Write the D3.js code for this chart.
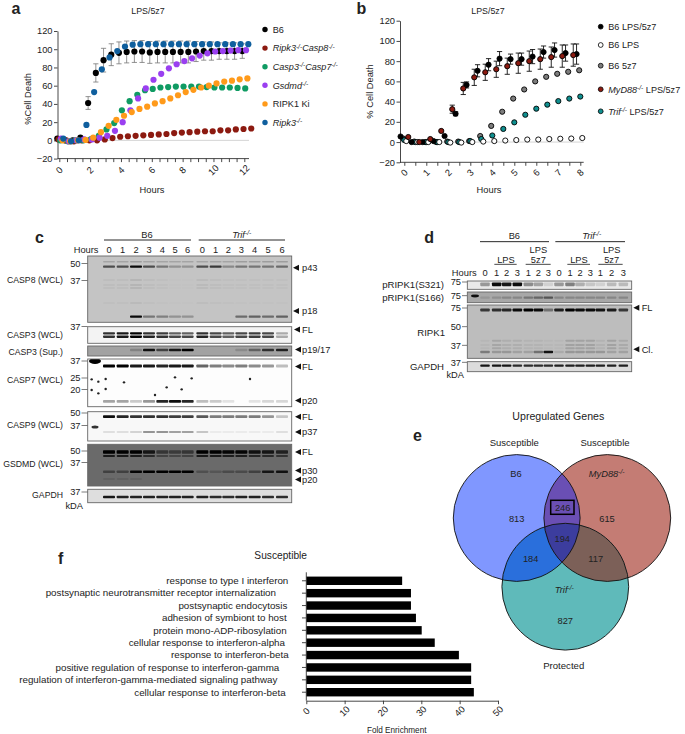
<!DOCTYPE html>
<html><head><meta charset="utf-8">
<script src="https://cdn.jsdelivr.net/npm/d3@7/dist/d3.min.js"></script>
<style>
html,body{margin:0;padding:0;background:#fff}
svg{display:block}
text{font-family:"Liberation Sans",Arial,sans-serif;fill:#222}
.domain,.tick line{stroke:#333}
</style></head><body><svg id="c" width="685" height="734"></svg>
<script>
// ---------- panel a data
const aB6=[2,0,0,3,41,74,88,94,96,97,97.5,97.5,96.5,97,97,97,97,97,97.5,98,98,98,98,98,98];
const aB6Err=[0,0,0,0,7,10,13,12,12,12,12,12,12,12,12,12,12,12,11,10,10,9,9,9,8];
const aRipk3Casp8=[1,0,-1,0,0,0,1,2.5,4,4.5,5,5.5,6,6.5,7,8,8.5,9,9.5,10,10,11,11,12,12.5,13];
const aCasp3Casp7=[0,-1,0,0,1.5,5,12,19,33,43,50,55,56.5,58,58.5,59,59,59,59,58.5,58,58,58,57.5,57];
const aGsdmd=[2,-1,0,1,1,3,5,10.5,20,33,46,57,66.5,73,79,83.5,87,90,93,95.5,97.5,98,98.5,99,99];
const aRipk1Ki=[0,-1,0,0.5,3,9,16,22.5,27,31,34.5,37,40.5,43,46,49.5,53,55.5,58,60,62.5,64.5,65.5,67,68];
const aRipk3=[2,-1,0,17,53,78,91,98,103,105,105.5,105.5,105.5,105.5,105.5,105.5,105.5,105.5,105.5,105.5,105.5,105.5,105.5,105.5,105.5];
const aStart=[-0.13,-0.05,0.06,0.11,0.2,0.26]; // first reading of each series, hours
const aNames=["B6","Ripk3|-/-|Casp8|-/-","Casp3|-/-|Casp7|-/-","Gsdmd|-/-","RIPK1 Ki","Ripk3|-/-"];
const aColors=["#000000","#8c1a10","#0f9b63","#9a3ff0","#ff9a1a","#0f5f9e"];
// ---------- panel b data
const bB6=[5.5,0,0,1,6,28,56.5,70.5,76.5,82.5,82,82,84.5,89,91,88,87];
const bB6Err=[0,0,0,0,0,2,3,6,6,7,5,6,7,6,7,8,10];
const bLPS=[1,0,0,0,-0.5,-0.5,0,0.5,1,1.5,2,2.5,2.5,3,3.3,3.5,4];
const b5z7=[3.5,0.5,0,0,0.5,0.5,1,6,16,30,43,52,60,64.5,67.5,69.5,71];
const bMyD88=[5,0,3,11,32.5,53,64,69,72,75,78,80,82,84,85,86];
const bMyD88Err=[0,0,0,0,4,6,8,8,8,8,10,10,10,10,11,11];
const bTrif=[2,0,0,0,0,0,1,3,6.5,13,19.5,27,33,37,40.5,43,45];
const bStart=[-0.17,0.09,-0.05,0.18,0];
const bNames=["B6 LPS/5z7","B6 LPS","B6 5z7","MyD88|-/-| LPS/5z7","Trif|-/-| LPS/5z7"];
const bColors=["#000000","#ffffff","#7d7d7d","#8c1a10","#0f8f8f"];
// ---------- panel c band intensities per lane
const cHours=[0,1,2,3,4,5,6,0,1,2,3,4,5,6];
const c8top=[.16,.16,.2,.16,.16,.16,.16,.16,.16,.16,.2,.2,.2,.2];
const c8p43=[.6,.6,.95,.6,.4,.25,.25,.6,.7,.3,.4,.4,.4,.45];
const c8mid=[.05,.05,.1,.05,.03,.02,.02,.07,.05,.04,.03,.03,.03,.03];
const c8p18=[0,0,.95,.4,.35,.25,.25,0,0,0,.45,.5,.45,.5];
const c3fl1=[.8,.9,1,.8,.75,.6,.6,.8,.7,.6,.7,.75,.7,.3];
const c3fl2=[.8,.9,1,.85,.8,.7,.7,.85,.7,.6,.7,.75,.7,.3];
const c3sup=[0,0,.2,.9,.6,.85,1,0,0,0,.15,.4,.7,.8];
const c7fl=[1,1,.9,.9,.85,.9,.9,.6,.5,.45,.5,.45,.4,.25];
const c7p20=[.35,.35,.2,.4,.85,.95,.85,.25,.2,.1,0,.1,.15,.15];
const c9fl=[.95,.85,.8,.8,.8,.75,.75,.65,.5,.5,.5,.5,.4,.2];
const c9p37=[.1,.1,.15,.4,.4,.35,.35,.2,.05,.05,.05,.05,.05,.1];
const gdFl=[1,1,1,.8,.5,.45,.5,1,1,.95,.95,.85,.8,.7];
const gdP30=[.4,.4,.95,1,1,1,1,.25,.2,.3,.3,.4,.8,.85];
const gdP20=[.12,.12,.12,0,0,0,0,0,0,0,0,0,0,0];
const cGapdh=[.9,.85,.85,.85,.85,.85,.85,.85,.8,.8,.85,.85,.8,.8];
const c7Specks=[[275,58],[295,65],[317,57],[275,90],[295,100],[317,87],[372,67],[465,105],[545,88],[500,82],[525,52],[575,55],[750,57]];
// ---------- panel d band intensities per lane
const dHours=[0,1,2,3,1,2,3,0,1,2,3,1,2,3];
const dS321=[.35,.95,.9,.95,.4,.3,.1,.35,.45,.25,.15,.1,.2,.2];
const dS166=[.1,.15,.2,.2,.3,.4,.5,.2,.2,.2,.2,.2,.2,.2];
const dFl=[.7,.75,.8,.95,1,.95,.4,.85,1,.95,.95,.9,.85,.7];
const dUp=[.04,.12,.08,.08,.05,.05,.03,.03,.14,.14,.14,.06,.14,.1];
const dCl=[.35,.2,.2,.15,.15,.4,.9,.1,.2,.2,.2,.2,.15,.15];
const dGapdh=[.9,.9,.9,.8,.8,.8,.8,.85,.85,.85,.85,.85,.85,.85];
// ---------- panel e data
const vennCounts=[813,615,827,246,184,117,194];
// ---------- panel f data
const fTerms=["response to type I interferon","postsynaptic neurotransmitter receptor internalization","postsynaptic endocytosis","adhesion of symbiont to host","protein mono-ADP-ribosylation","cellular response to interferon-alpha","response to interferon-beta","positive regulation of response to interferon-gamma","regulation of interferon-gamma-mediated signaling pathway","cellular response to interferon-beta"];
const fValues=[25,27.3,27.3,28.6,30.1,33.5,39.8,43,43,43.7];

const svg=d3.select("#c");
const FS=9.3;
function label(g,x,y,str,o={}){
  const t=g.append("text").attr("x",x).attr("y",y).attr("font-size",o.size||FS)
    .attr("text-anchor",o.anchor||"start").attr("dominant-baseline","auto");
  if(o.bold)t.attr("font-weight","bold");
  if(o.rotate!==undefined)t.attr("transform",`rotate(${o.rotate} ${x} ${y})`);
  const parts=str.split("|");
  let prevSup=false;
  parts.forEach((s,i)=>{
    if(!s)return;
    const isSup=s==="-/-";
    const it=isSup||(parts.length>1&&(i===0||/^(Casp8|Casp7)$/.test(s)));
    const sp=t.append("tspan").text(s);
    if(it)sp.attr("font-style","italic");
    if(isSup)sp.attr("font-size",(o.size||FS)*.72).attr("dy",-2.8);
    else if(prevSup)sp.attr("dy",2.8);
    prevSup=isSup;
  });
  return t;
}
function styleAxis(g){g.selectAll("path,line").attr("stroke","#333").attr("stroke-width",.9);g.selectAll("text").attr("font-size",FS).attr("fill","#222");}
function tiltTicks(axis,dist){
  axis.selectAll(".tick text").attr("text-anchor","middle").attr("y",0).attr("dy",0).attr("dominant-baseline","middle")
    .attr("transform",`translate(0,${dist}) rotate(-45)`);
}
// ---------- scatter panels
function timePanel(o){
  const g=svg.append("g");
  const x=d3.scaleLinear().domain(o.xd).range(o.xr);
  const y=d3.scaleLinear().domain([-20,120]).range(o.yr);
  g.append("line").attr("x1",o.xAxisL).attr("x2",o.xEnd).attr("y1",y(0)).attr("y2",y(0)).attr("stroke","#cfcfcf").attr("stroke-width",.9);
  const ya=g.append("g").attr("transform",`translate(${o.yAxisX},0)`).call(d3.axisLeft(y).tickValues(d3.range(-20,121,20)).tickSize(3.5).tickSizeOuter(0).tickPadding(1.5));
  styleAxis(ya);
  const xa=g.append("g").attr("transform",`translate(0,${y(-20)})`).call(d3.axisBottom(x).tickValues(o.minor).tickSize(3.5).tickSizeOuter(0).tickFormat(d=>o.major.includes(d)?d:""));
  styleAxis(xa);
  xa.select(".domain").attr("d",`M${o.yAxisX},0H${o.xEnd}`);
  tiltTicks(xa,o.tickDist);
  return {g,x,y};
}
function errBars(g,xs,ys,es,color,w){
  xs.forEach((xv,i)=>{ if(!es[i])return;
    const a=g.append("g").attr("stroke",color).attr("stroke-width",w).attr("fill","none");
    a.append("line").attr("x1",xv).attr("x2",xv).attr("y1",ys(i,1)).attr("y2",ys(i,-1));
    [1,-1].forEach(s=>a.append("line").attr("x1",xv-2.6).attr("x2",xv+2.6).attr("y1",ys(i,s)).attr("y2",ys(i,s)));
  });
}
// panel a
{
  const p=timePanel({xd:[0,12],xr:[59.3,244.3],yr:[158.6,31],xAxisL:57.5,yAxisX:57.5,xEnd:249,minor:d3.range(0,12.5,.5),major:[0,2,4,6,8,10,12],tickDist:12});
  const series=[aB6,aRipk3Casp8,aCasp3Casp7,aGsdmd,aRipk1Ki,aRipk3];
  const xs=aB6.map((d,i)=>p.x(aStart[0]+i*.5));
  errBars(p.g,xs,(i,s)=>p.y(aB6[i]+s*aB6Err[i]),aB6Err,"#777",.8);
  series.forEach((vals,k)=>{
    p.g.append("g").selectAll("circle").data(vals).join("circle")
      .attr("cx",(d,i)=>p.x(aStart[k]+i*.5)).attr("cy",d=>p.y(d)).attr("r",3.1).attr("fill",aColors[k]);
  });
  const lg=svg.append("g");
  aNames.forEach((n,i)=>{
    const ly=29.5+i*18.6;
    lg.append("circle").attr("cx",265).attr("cy",ly).attr("r",2.7).attr("fill",aColors[i]);
    label(lg,272.7,ly+3.2,n,{size:9.1});
  });
  label(svg,148,14,"LPS/5z7",{anchor:"middle",size:8.8});
  label(svg,152,192.5,"Hours",{anchor:"middle"});
  label(svg,30.5,99,"%Cell Death",{anchor:"middle",rotate:-90});
}
// panel b
{
  const p=timePanel({xd:[0,8],xr:[404.3,580.3],yr:[162.3,20.7],xAxisL:400,yAxisX:400,xEnd:583.7,minor:d3.range(0,8.5,.5),major:[0,1,2,3,4,5,6,7,8],tickDist:11});
  const series=[bB6,bLPS,b5z7,bMyD88,bTrif];
  const order=[2,4,1,0,3];
  errBars(p.g,bB6.map((d,i)=>p.x(bStart[0]+i*.5)),(i,s)=>p.y(bB6[i]+s*bB6Err[i]),bB6Err,"#111",.9);
  errBars(p.g,bMyD88.map((d,i)=>p.x(bStart[3]+i*.5)),(i,s)=>p.y(bMyD88[i]+s*bMyD88Err[i]),bMyD88Err,"#111",.9);
  order.forEach(k=>{
    p.g.append("g").selectAll("circle").data(series[k]).join("circle")
      .attr("cx",(d,i)=>p.x(bStart[k]+i*.5)).attr("cy",d=>p.y(d)).attr("r",2.6).attr("fill",bColors[k]).attr("stroke","#000").attr("stroke-width",.9);
  });
  const lg=svg.append("g");
  [26.7,45,65.7,89.3,111.3].forEach((ly,i)=>{
    lg.append("circle").attr("cx",600.7).attr("cy",ly).attr("r",2.4).attr("fill",bColors[i]).attr("stroke","#000").attr("stroke-width",.8);
    label(lg,608.3,ly+3.2,bNames[i],{size:9.1});
  });
  label(svg,488,14,"LPS/5z7",{anchor:"middle",size:8.8});
  label(svg,489,192.5,"Hours",{anchor:"middle"});
  label(svg,373,91.5,"% Cell Death",{anchor:"middle",rotate:-90});
}
// ---------- blots
const defs=svg.append("defs");
defs.append("filter").attr("id","b1").attr("x","-5%").attr("y","-5%").attr("width","110%").attr("height","110%").append("feGaussianBlur").attr("stdDeviation",.65);
function blot(x0,x1,y0,y1,bg,laneX,bands,bw){
  const g=svg.append("g");
  const id="cl"+Math.round(x0)+"_"+Math.round(y0);
  defs.append("clipPath").attr("id",id).append("rect").attr("x",x0).attr("y",y0).attr("width",x1-x0).attr("height",y1-y0);
  g.append("rect").attr("x",x0).attr("y",y0).attr("width",x1-x0).attr("height",y1-y0).attr("fill",bg);
  const inner=g.append("g").attr("clip-path",`url(#${id})`).append("g").attr("filter","url(#b1)");
  bands.forEach(b=>{
    inner.selectAll(null).data(b.v).join("rect")
      .attr("x",(d,i)=>laneX[i]-(bw/2))
      .attr("width",bw)
      .attr("y",b.y-b.h/2).attr("height",b.h).attr("rx",.8)
      .attr("fill","#000").attr("opacity",d=>d);
  });
  g.append("rect").attr("x",x0).attr("y",y0).attr("width",x1-x0).attr("height",y1-y0).attr("fill","none").attr("stroke","#666").attr("stroke-width",.9);
  return {g,inner};
}
function mw(xTick,xEnd,y,t){
  svg.append("line").attr("x1",xTick).attr("x2",xEnd).attr("y1",y).attr("y2",y).attr("stroke","#444").attr("stroke-width",.7);
  label(svg,xTick-1,y+3.2,t,{anchor:"end"});
}
function arrow(x,y,t,tx){
  svg.append("path").attr("d",d3.line()([[x,y],[x+6,y-3],[x+6,y+3]])+"Z").attr("fill","#111");
  label(svg,tx||x+8,y+3.2,t);
}
// panel c
{
  const laneX=[327,368,408,447,487,525,563,607,647,685,724,764,804,846].map(d=>d/3);
  svg.append("g").selectAll("text").data(cHours).join("text").attr("x",(d,i)=>laneX[i]).attr("y",252.7).attr("text-anchor","middle").attr("font-size",FS).text(d=>d);
  label(svg,98.5,252.7,"Hours",{anchor:"end"});
  [[104,191],[198.7,285]].forEach(([a,b])=>svg.append("line").attr("x1",a).attr("x2",b).attr("y1",240).attr("y2",240).attr("stroke","#111").attr("stroke-width",.9));
  label(svg,147,238,"B6",{anchor:"middle"});
  label(svg,241.7,238,"Trif|-/-",{anchor:"middle"});
  const X0=87.7,X1=291.7,W=12;
  blot(X0,X1,256,322.3,"#c4c4c4",laneX,[{y:261.7,h:1.6,v:c8top},{y:266.7,h:2.2,v:c8p43},{y:280,h:1.4,v:c8mid},{y:285,h:1.4,v:c8mid},{y:288,h:1.4,v:c8mid},{y:303,h:1.2,v:c8mid},{y:316.7,h:2.2,v:c8p18}],W);
  blot(X0,X1,326.7,343.3,"#f3f3f3",laneX,[{y:333.3,h:2.2,v:c3fl1},{y:336.7,h:2.4,v:c3fl2}],W);
  blot(X0,X1,346,356,"#a2a2a2",laneX,[{y:350,h:2.6,v:c3sup}],W);
  const b7=blot(X0,X1,359,406.7,"#fdfdfd",laneX,[{y:366,h:3,v:c7fl},{y:401.3,h:2.8,v:c7p20}],W);
  b7.inner.append("ellipse").attr("cx",95).attr("cy",361).attr("rx",6).attr("ry",3).attr("fill","#000");
  b7.inner.selectAll(null).data(c7Specks).join("circle").attr("cx",d=>d[0]/3).attr("cy",d=>360+d[1]/3).attr("r",1.2).attr("fill","#222");
  const b9=blot(X0,X1,411.7,441,"#f8f8f8",laneX,[{y:416.7,h:2.8,v:c9fl},{y:432,h:2.2,v:c9p37}],W);
  b9.inner.append("ellipse").attr("cx",95).attr("cy",427).attr("rx",3.5).attr("ry",1.5).attr("fill","#333");
  blot(X0,X1,444.3,486,"#6a6a6a",laneX,[{y:452,h:3.6,v:gdFl},{y:456,h:1.6,v:gdFl},{y:471.7,h:2.6,v:gdP30},{y:479,h:1.4,v:gdP20}],W);
  blot(X0,X1,489.3,502.7,"#dedede",laneX,[{y:497,h:2.6,v:cGapdh}],W);
  mw(81.5,87.5,263.5,"50");mw(81.5,87.5,280.5,"37");
  mw(81.5,87.5,326.5,"37");mw(81.5,87.5,361,"37");
  mw(81.5,87.5,378,"25");mw(81.5,87.5,389.5,"20");
  mw(81.5,87.5,413,"50");mw(81.5,87.5,425.5,"37");
  mw(81.5,87.5,451,"50");mw(81.5,87.5,462.5,"37");mw(81.5,87.5,492,"37");
  label(svg,83,508.5,"kDA",{anchor:"end"});
  [["CASP8 (WCL)",283],["CASP3 (WCL)",338],["CASP3 (Sup.)",354.5],["CASP7 (WCL)",382.5],["CASP9 (WCL)",428],["GSDMD (WCL)",467],["GAPDH",498]].forEach(([t,y])=>label(svg,63,y,t,{anchor:"end",size:8.7}));
  arrow(293,267.7,"p43",302);arrow(293,311,"p18",302);arrow(294,329.5,"FL",302);
  arrow(295,349.5,"p19/17",302);arrow(295,366.5,"FL",302);arrow(295,400.5,"p20",302);
  arrow(295,416.7,"FL",302);arrow(295,432,"p37",302);
  arrow(295,452,"FL",302);arrow(295,470.5,"p30",302);arrow(295,479.5,"p20",302);
}
// panel d
{
  const zx=z=>370+z/3, zy=z=>220+z/3;
  const laneX=[345,380,410,442,475,505,535,567,600,630,661,691,725,760].map(zx);
  svg.append("g").selectAll("text").data(dHours).join("text").attr("x",(d,i)=>laneX[i]).attr("y",zy(158)+3.2).attr("text-anchor","middle").attr("font-size",FS).text(d=>d);
  label(svg,zx(320),zy(158)+3.2,"Hours",{anchor:"end"});
  [[330,537],[556,765]].forEach(([a,b])=>svg.append("line").attr("x1",zx(a)).attr("x2",zx(b)).attr("y1",zy(65)).attr("y2",zy(65)).attr("stroke","#111").attr("stroke-width",.9));
  [[373,440],[467,542],[592,660],[685,758]].forEach(([a,b])=>svg.append("line").attr("x1",zx(a)).attr("x2",zx(b)).attr("y1",zy(133)).attr("y2",zy(133)).attr("stroke","#333").attr("stroke-width",.9));
  label(svg,zx(433),zy(48)+3.2,"B6",{anchor:"middle"});
  label(svg,zx(665),zy(48)+3.2,"Trif|-/-",{anchor:"middle"});
  [408,627].forEach(z=>label(svg,zx(z),zy(120)+3.2,"LPS",{anchor:"middle"}));
  [505,725].forEach(z=>{label(svg,zx(z),zy(90)+3.2,"LPS",{anchor:"middle"});label(svg,zx(z),zy(120)+3.2,"5z7",{anchor:"middle"});});
  const X0=zx(292),X1=zx(785),W=9.5;
  blot(X0,X1,zy(183),zy(208),"#e9e9e9",laneX,[{y:zy(193),h:3.6,v:dS321}],W);
  const b=blot(X0,X1,zy(216),zy(248),"#a8a8a8",laneX,[{y:zy(233),h:2.2,v:dS166}],W);
  b.inner.append("ellipse").attr("cx",zx(315)).attr("cy",zy(228)).attr("rx",4).attr("ry",1.4).attr("fill","#111");
  blot(X0,X1,zy(255),zy(415),"#bdbdbd",laneX,[{y:zy(270),h:3,v:dFl},{y:zy(362),h:2,v:dUp},{y:zy(375),h:2,v:dUp},{y:zy(385),h:2,v:dUp},{y:zy(396),h:2.4,v:dCl}],W);
  blot(X0,X1,zy(425),zy(455),"#dcdcdc",laneX,[{y:zy(437),h:2.4,v:dGapdh}],W);
  [[186,"75"],[227,"75"],[264,"75"],[320,"50"],[376,"37"],[427,"37"]].forEach(([y,t])=>mw(zx(276),zx(291),zy(y),t));
  label(svg,zx(282),zy(465)+3.2,"kDA",{anchor:"end"});
  [["pRIPK1(S321)",195,222],["pRIPK1(S166)",232,222],["RIPK1",337,225],["GAPDH",440,222]].forEach(([t,y,x])=>label(svg,zx(x),zy(y)+3.2,t,{anchor:"end",size:9.6}));
  arrow(zx(790),zy(263),"FL",zx(815));arrow(zx(790),zy(388),"Cl.",zx(815));
}
// panel e
{
  const r=63.4;
  const C=[{x:516.7,y:518,c:"#8097ff"},{x:607.3,y:518,c:"#c47c74"},{x:565.3,y:586.7,c:"#5fbaba"}];
  C.forEach((c,i)=>defs.append("clipPath").attr("id","v"+i).append("circle").attr("cx",c.x).attr("cy",c.y).attr("r",r));
  const g=svg.append("g");
  C.forEach(c=>g.append("circle").attr("cx",c.x).attr("cy",c.y).attr("r",r).attr("fill",c.c));
  const ov=(a,b,col)=>g.append("g").attr("clip-path",`url(#v${a})`).append("circle").attr("cx",C[b].x).attr("cy",C[b].y).attr("r",r).attr("fill",col);
  ov(0,1,"#6a4fb4");ov(0,2,"#2a6fdc");ov(1,2,"#7c6058");
  g.append("g").attr("clip-path","url(#v0)").append("g").attr("clip-path","url(#v1)").append("circle").attr("cx",C[2].x).attr("cy",C[2].y).attr("r",r).attr("fill","#3c3d9e");
  C.forEach(c=>g.append("circle").attr("cx",c.x).attr("cy",c.y).attr("r",r).attr("fill","none").attr("stroke","#111").attr("stroke-width",1).attr("stroke-opacity",.9));
  g.append("rect").attr("x",550.7).attr("y",500.3).attr("width",23.3).attr("height",14).attr("fill","none").attr("stroke","#000").attr("stroke-width",1.5);
  const pos=[[516.7,521.5],[607,521.5],[565.3,624],[562.7,510.5],[530.7,562.2],[595.7,562.2],[562.3,541.5]];
  vennCounts.forEach((v,i)=>label(svg,pos[i][0],pos[i][1],String(v),{anchor:"middle"}));
  label(svg,558.3,419.5,"Upregulated Genes",{anchor:"middle",size:10.6});
  label(svg,514.3,446,"Susceptible",{anchor:"middle",size:9.5});
  label(svg,605,446,"Susceptible",{anchor:"middle",size:9.5});
  label(svg,516,476.5,"B6",{anchor:"middle"});
  label(svg,606.7,476.5,"MyD88|-/-",{anchor:"middle"});
  label(svg,564.3,593.2,"Trif|-/-",{anchor:"middle"});
  label(svg,563.7,669,"Protected",{anchor:"middle",size:9.6});
}
// panel f
{
  const g=svg.append("g");
  const x=d3.scaleLinear().domain([0,50]).range([306.3,498]);
  const y=d3.scaleBand().domain(fTerms).range([574.6,698.4]).paddingInner(.32).paddingOuter(.16);
  g.selectAll("rect").data(fValues).join("rect").attr("x",x(0)).attr("y",(d,i)=>y(fTerms[i])).attr("width",d=>x(d)-x(0)).attr("height",y.bandwidth()).attr("fill","#000");
  const ya=g.append("g").attr("transform","translate(306.3,0)").call(d3.axisLeft(y).tickSize(4.3).tickFormat(""));
  styleAxis(ya);ya.select(".domain").attr("d","M0,572.3V700.7");
  const xa=g.append("g").attr("transform","translate(0,700.7)").call(d3.axisBottom(x).tickValues([0,10,20,30,40,50]).tickSize(3.5).tickSizeOuter(0));
  styleAxis(xa);
  tiltTicks(xa,11);
  const rights=[865,828,862,860,860,855,866,838,832,857];
  fTerms.forEach((t,i)=>label(svg,rights[i]/3,y(t)+y.bandwidth()/2+3.3,t,{anchor:"end",size:9.8}));
  label(svg,280.7,558.5,"Susceptible",{anchor:"middle",size:10.2});
  label(svg,396.7,733,"Fold Enrichment",{anchor:"middle",size:8.2});
}
// panel letters
[["a",11.5,13.5],["b",356.5,14],["c",35,242.7],["d",424.3,242.7],["e",413,441],["f",58,564]].forEach(([t,x,y])=>label(svg,x,y,t,{bold:true,size:16}));
</script></body></html>
